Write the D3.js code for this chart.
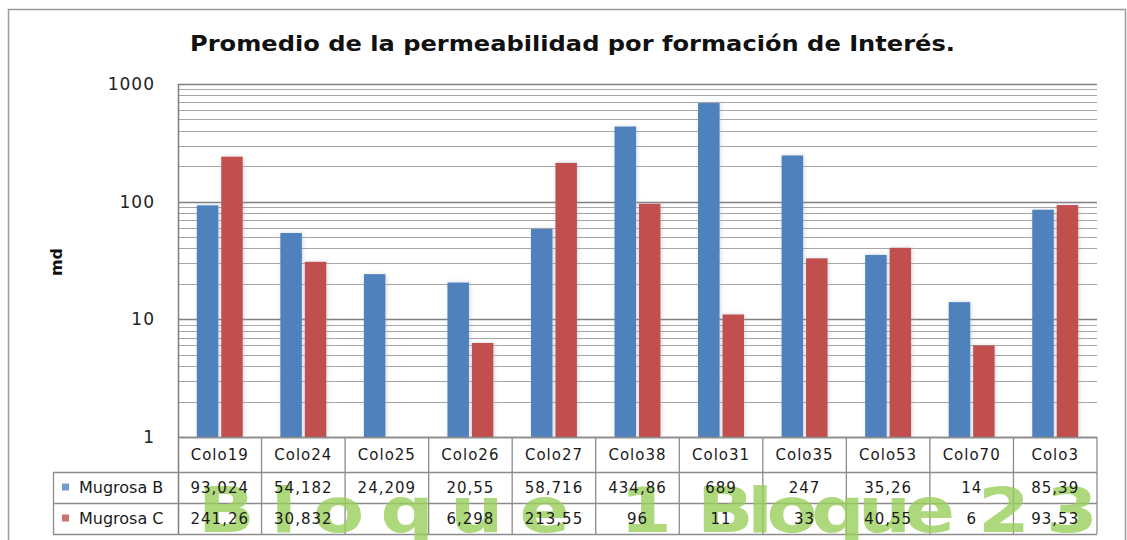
<!DOCTYPE html>
<html>
<head>
<meta charset="utf-8">
<script src="https://d3js.org/d3.v7.min.js"></script>
<style>
  body { margin: 0; background: #fff; }
  svg { display: block; }
</style>
</head>
<body>
<svg width="1127" height="540"></svg>
<script>
var categories = ["Colo19", "Colo24", "Colo25", "Colo26", "Colo27", "Colo38", "Colo31", "Colo35", "Colo53", "Colo70", "Colo3"];
var mugrosaB = [93.024, 54.182, 24.209, 20.55, 58.716, 434.86, 689, 247, 35.26, 14, 85.39];
var mugrosaC = [241.26, 30.832, null, 6.298, 213.55, 96, 11, 33, 40.55, 6, 93.53];
var seriesNames = ["Mugrosa B", "Mugrosa C"];
var seriesColors = ["#4f81bd", "#c0504d"];
var yTicks = [1, 10, 100, 1000];
var title = "Promedio de la permeabilidad por formación de Interés.";
var watermark = ["Bloque", "1", "Bloque", "2", "3"];

var svg = d3.select("svg"),
    width = +svg.attr("width"),
    height = +svg.attr("height"),
    margin = {top: 84, right: 30, bottom: 103, left: 178};

var plotBottom = height - margin.bottom,   // y of value 1
    rowH = [35, 31, 31];

var x = d3.scaleBand()
    .domain(categories)
    .range([margin.left, width - margin.right]);

var xs = d3.scaleBand()
    .domain(seriesNames)
    .range([0, x.bandwidth()])
    .paddingInner(0.12)
    .paddingOuter(0.77);

var y = d3.scaleLog()
    .domain([1, 1000])
    .range([plotBottom, margin.top]);

var fmt = function(v) { return v == null ? "" : String(v).replace(".", ","); };

// outer frame
svg.append("rect")
    .attr("x", 8.5).attr("y", 9.5)
    .attr("width", width - 10).attr("height", height)
    .attr("fill", "#fff")
    .attr("stroke", "#9a9a9a")
    .attr("stroke-width", 1.5);

svg.append("text")
    .attr("x", 190)
    .attr("y", 51)
    .attr("font-family", "DejaVu Sans")
    .attr("font-weight", "bold")
    .attr("font-size", 22)
    .attr("textLength", 765)
    .attr("lengthAdjust", "spacingAndGlyphs")
    .attr("fill", "#111")
    .text(title);

// gridlines: minor then major
var minor = [];
[1, 10, 100].forEach(function(d) {
  for (var k = 2; k <= 9; k++) minor.push(d * k);
});

svg.append("g")
    .selectAll("line")
    .data(minor)
    .enter().append("line")
      .attr("x1", margin.left).attr("x2", width - margin.right)
      .attr("y1", function(d) { return Math.round(y(d)) + 0.5; })
      .attr("y2", function(d) { return Math.round(y(d)) + 0.5; })
      .attr("stroke", "#a6a6a6")
      .attr("stroke-width", 1);

svg.append("g")
    .selectAll("line")
    .data(yTicks)
    .enter().append("line")
      .attr("x1", margin.left).attr("x2", width - margin.right)
      .attr("y1", function(d) { return Math.round(y(d)) + 0.5; })
      .attr("y2", function(d) { return Math.round(y(d)) + 0.5; })
      .attr("stroke", "#7f7f7f")
      .attr("stroke-width", 1.5);

// bars
var defs = svg.append("defs");
defs.append("filter")
    .attr("id", "glow")
    .attr("x", "-30%").attr("y", "-10%").attr("width", "160%").attr("height", "120%")
  .append("feDropShadow")
    .attr("dx", 1).attr("dy", 0).attr("stdDeviation", 2)
    .attr("flood-color", "#9ab").attr("flood-opacity", 0.45);

var rows = categories.map(function(c, i) {
  return {cat: c, values: [mugrosaB[i], mugrosaC[i]]};
});

svg.append("g")
    .selectAll("g")
    .data(rows)
    .enter().append("g")
      .attr("transform", function(d) { return "translate(" + x(d.cat) + ",0)"; })
    .selectAll("rect")
    .data(function(d) {
      return d.values.map(function(v, j) { return {key: seriesNames[j], value: v, j: j}; })
        .filter(function(e) { return e.value != null; });
    })
    .enter().append("rect")
      .attr("x", function(d) { return xs(d.key); })
      .attr("y", function(d) { return y(d.value); })
      .attr("width", xs.bandwidth())
      .attr("height", function(d) { return y(1) - y(d.value); })
      .attr("fill", function(d) { return seriesColors[d.j]; })
      .attr("filter", "url(#glow)");

// plot frame (left)
svg.append("line")
    .attr("x1", margin.left + 0.5).attr("x2", margin.left + 0.5)
    .attr("y1", margin.top).attr("y2", plotBottom + rowH[0] + rowH[1] + rowH[2])
    .attr("stroke", "#808080").attr("stroke-width", 1.5);

// y axis labels
svg.append("g")
    .selectAll("text")
    .data(yTicks)
    .enter().append("text")
      .attr("x", 155)
      .attr("y", function(d) { return y(d); })
      .attr("dy", "0.36em")
      .attr("text-anchor", "end")
      .attr("font-family", "DejaVu Sans")
      .attr("font-size", 17)
      .attr("letter-spacing", 1)
      .attr("fill", "#222")
      .text(function(d) { return d; });

svg.append("text")
    .attr("transform", "translate(62,262) rotate(-90)")
    .attr("text-anchor", "middle")
    .attr("font-family", "DejaVu Sans")
    .attr("font-weight", "bold")
    .attr("font-size", 16)
    .attr("fill", "#111")
    .text("md");

// data table
var tbl = svg.append("g")
    .attr("font-family", "DejaVu Sans")
    .attr("font-size", 15)
    .attr("letter-spacing", 1)
    .attr("fill", "#1a1a1a");

var yRow = [plotBottom, plotBottom + rowH[0], plotBottom + rowH[0] + rowH[1], plotBottom + rowH[0] + rowH[1] + rowH[2]];
var legendLeft = 53;

tbl.selectAll("line.h")
    .data(yRow)
    .enter().append("line")
      .attr("x1", function(d, i) { return i === 0 ? margin.left : legendLeft; })
      .attr("x2", width - margin.right)
      .attr("y1", function(d) { return Math.round(d) + 0.5; })
      .attr("y2", function(d) { return Math.round(d) + 0.5; })
      .attr("stroke", "#8c8c8c")
      .attr("stroke-width", 1.3);

tbl.selectAll("line.v")
    .data(categories)
    .enter().append("line")
      .attr("x1", function(d) { return x(d) + x.bandwidth(); })
      .attr("x2", function(d) { return x(d) + x.bandwidth(); })
      .attr("y1", yRow[0]).attr("y2", yRow[3])
      .attr("stroke", "#8c8c8c")
      .attr("stroke-width", 1.3);

tbl.append("line")
    .attr("x1", legendLeft + 0.5).attr("x2", legendLeft + 0.5)
    .attr("y1", yRow[1]).attr("y2", yRow[3])
    .attr("stroke", "#8c8c8c")
    .attr("stroke-width", 1.3);

tbl.selectAll("text.cat")
    .data(categories)
    .enter().append("text")
      .attr("x", function(d) { return x(d) + x.bandwidth() / 2; })
      .attr("y", (yRow[0] + yRow[1]) / 2)
      .attr("dy", "0.36em")
      .attr("text-anchor", "middle")
      .text(function(d) { return d; });

// watermark sits under the numbers, so draw it first (glyphs widened a bit)
var wm = tbl.append("g")
    .attr("font-size", 62)
    .attr("font-weight", "bold")
    .attr("letter-spacing", 0)
    .attr("fill", "#9bcf5c")
    .attr("opacity", 0.8);

var wmScale = 1.2;
var wmPos = [[198, 372], [620, 32], [697, 258], [978, 42], [1046, 34]];
wm.selectAll("text")
    .data(watermark)
    .enter().append("text")
      .attr("transform", function(d, i) { return "translate(" + wmPos[i][0] + ",532) scale(" + wmScale + ",1)"; })
      .attr("textLength", function(d, i) { return wmPos[i][1] / wmScale; })
      .attr("lengthAdjust", "spacing")
      .text(function(d) { return d; });

[mugrosaB, mugrosaC].forEach(function(vals, j) {
  var yc = (yRow[j + 1] + yRow[j + 2]) / 2;
  tbl.selectAll("text.v" + j)
      .data(vals)
      .enter().append("text")
        .attr("x", function(d, i) { return x(categories[i]) + x.bandwidth() / 2; })
        .attr("y", yc)
        .attr("dy", "0.36em")
        .attr("text-anchor", "middle")
        .text(fmt);

  tbl.append("rect")
      .attr("x", 62).attr("y", yc - 4)
      .attr("width", 7).attr("height", 7)
      .attr("fill", seriesColors[j])
      .attr("opacity", 0.8);

  tbl.append("text")
      .attr("x", 79)
      .attr("y", yc)
      .attr("dy", "0.36em")
      .attr("letter-spacing", 0)
      .attr("font-size", 16)
      .text(seriesNames[j]);
});
</script>
</body>
</html>
